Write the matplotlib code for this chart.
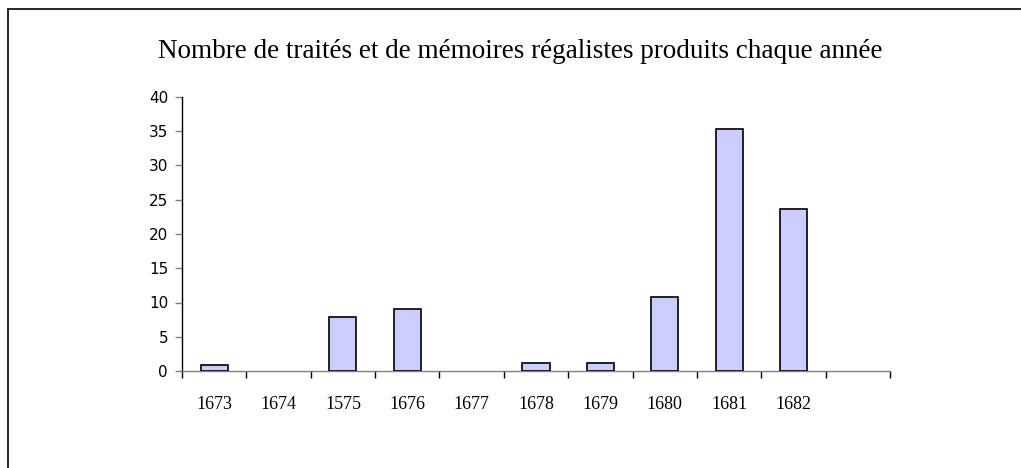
#!/usr/bin/env python3
"""Bar chart: regalist treatises and memoirs produced each year."""

import matplotlib

matplotlib.use("Agg")
import matplotlib.pyplot as plt
from matplotlib.patches import Rectangle

years = ["1673", "1674", "1575", "1676", "1677", "1678", "1679",
         "1680", "1681", "1682", ""]
counts = [0.9, 0, 7.9, 9.0, 0, 1.2, 1.2, 10.8, 35.3, 23.6, 0]

TITLE = "Nombre de traités et de mémoires régalistes produits chaque année"


def main() -> None:
    plt.rcParams["font.family"] = ["Liberation Serif", "DejaVu Serif"]
    fig = plt.figure(figsize=(10.21, 4.68), dpi=100)
    ax = fig.add_axes([182 / 1021, 97 / 468, 708 / 1021, 274 / 468])

    pos = list(range(len(years)))
    # empty years get no bar at all
    shown = [(p, c) for p, c in zip(pos, counts) if c > 0]
    ax.bar([p for p, _ in shown], [c for _, c in shown], width=0.42,
           color="#CCCCFF", edgecolor="black", linewidth=1.2, zorder=3)

    ax.set_xlim(-0.5, len(years) - 0.5)
    ax.set_ylim(0, 40)
    ax.set_yticks(range(0, 41, 5))
    ax.tick_params(axis="y", length=5, width=1, color="#808080", pad=5)
    for lab in ax.get_yticklabels():
        lab.set_fontfamily("DejaVu Sans")
        lab.set_fontsize(11)

    ax.set_xticks([p - 0.5 for p in pos] + [len(years) - 0.5])
    ax.set_xticklabels([])
    ax.set_xticks(pos, minor=True)
    ax.set_xticklabels(years, minor=True)
    ax.tick_params(axis="x", which="major", length=5, width=1,
                   color="black", direction="out")
    ax.tick_params(axis="x", which="minor", length=0, labelsize=13, pad=18)

    for s in ("top", "right"):
        ax.spines[s].set_visible(False)
    ax.spines["left"].set_color("black")
    ax.spines["left"].set_linewidth(1.0)
    ax.spines["bottom"].set_color("#808080")
    ax.spines["bottom"].set_linewidth(1.0)

    fig.text(520 / 1021, 1 - 51 / 468, TITLE, ha="center", va="center",
             fontsize=19.5)

    # chart frame, only top and left edges fall inside the image
    fig.patches.append(Rectangle((8 / 1021, -0.1), 1.2, 1 - 9 / 468 + 0.1,
                                 transform=fig.transFigure, fill=False,
                                 edgecolor="black", linewidth=1.2))

    fig.savefig("out.png", dpi=100)


if __name__ == "__main__":
    main()
